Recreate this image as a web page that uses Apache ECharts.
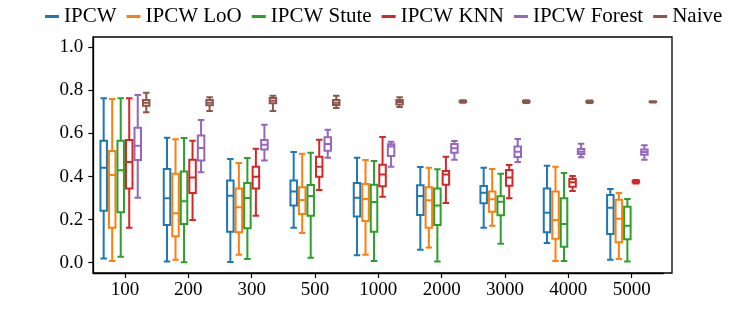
<!DOCTYPE html>
<html>
<head>
<meta charset="utf-8">
<script src="https://cdn.jsdelivr.net/npm/echarts@6/dist/echarts.min.js"></script>
<style>html,body{margin:0;padding:0;background:#fff}#c{width:747px;height:312px}</style>
</head>
<body>
<div id="c"></div>
<script>
// categories (sample sizes)
const categories = ['100','200','300','500','1000','2000','3000','4000','5000'];
const seriesNames = ['IPCW','IPCW LoO','IPCW Stute','IPCW KNN','IPCW Forest','Naive'];
const yTicks = [0.0, 0.2, 0.4, 0.6, 0.8, 1.0];

// each row: [min, Q1, median, Q3, max]
const ipcw = [
  [0.019,0.241,0.441,0.566,0.763],
  [0.005,0.175,0.299,0.435,0.580],
  [0.003,0.144,0.311,0.382,0.481],
  [0.162,0.266,0.330,0.381,0.514],
  [0.034,0.214,0.302,0.370,0.487],
  [0.060,0.221,0.310,0.359,0.444],
  [0.162,0.276,0.325,0.356,0.441],
  [0.091,0.141,0.232,0.345,0.450],
  [0.014,0.133,0.255,0.314,0.342]
];
const ipcwLoO = [
  [0.008,0.162,0.407,0.519,0.760],
  [0.013,0.123,0.229,0.413,0.573],
  [0.037,0.141,0.257,0.344,0.463],
  [0.138,0.226,0.291,0.350,0.506],
  [0.037,0.194,0.296,0.365,0.477],
  [0.071,0.162,0.290,0.350,0.441],
  [0.172,0.237,0.294,0.330,0.435],
  [0.008,0.111,0.198,0.331,0.446],
  [0.017,0.095,0.204,0.292,0.324]
];
const ipcwStute = [
  [0.028,0.234,0.429,0.566,0.763],
  [0.002,0.180,0.285,0.423,0.579],
  [0.017,0.160,0.300,0.370,0.486],
  [0.023,0.218,0.310,0.361,0.511],
  [0.008,0.144,0.282,0.362,0.472],
  [0.005,0.175,0.266,0.344,0.434],
  [0.088,0.220,0.283,0.308,0.413],
  [0.008,0.074,0.180,0.299,0.416],
  [0.005,0.109,0.172,0.260,0.296]
];
const ipcwKNN = [
  [0.162,0.345,0.467,0.570,0.763],
  [0.198,0.324,0.396,0.478,0.566],
  [0.218,0.344,0.399,0.446,0.529],
  [0.337,0.399,0.446,0.492,0.571],
  [0.306,0.355,0.409,0.455,0.584],
  [0.277,0.362,0.409,0.426,0.492],
  [0.299,0.357,0.395,0.430,0.454],
  [0.333,0.353,0.373,0.389,0.402],
  [0.368,0.372,0.376,0.380,0.384]
];
const ipcwForest = [
  [0.302,0.477,0.543,0.627,0.779],
  [0.420,0.475,0.532,0.591,0.662],
  [0.474,0.525,0.548,0.570,0.641],
  [0.487,0.520,0.551,0.582,0.617],
  [0.446,0.495,0.539,0.550,0.562],
  [0.478,0.511,0.531,0.551,0.565],
  [0.467,0.491,0.515,0.539,0.574],
  [0.489,0.505,0.515,0.528,0.552],
  [0.478,0.501,0.514,0.525,0.545]
];
const naive = [
  [0.698,0.729,0.743,0.755,0.789],
  [0.704,0.731,0.743,0.755,0.768],
  [0.704,0.740,0.752,0.765,0.775],
  [0.718,0.732,0.743,0.755,0.775],
  [0.723,0.735,0.746,0.755,0.768],
  [0.743,0.746,0.749,0.751,0.754],
  [0.742,0.745,0.748,0.751,0.754],
  [0.742,0.745,0.747,0.750,0.753],
  [0.744,0.746,0.747,0.749,0.750]
];

const allData = [ipcw, ipcwLoO, ipcwStute, ipcwKNN, ipcwForest, naive];
const colors = ['#1f77b4','#ff7f0e','#2ca02c','#d62728','#9467bd','#8c564b'];
const FONT = '"Liberation Serif", "Times New Roman", serif';

const chart = echarts.init(document.getElementById('c'), null, {renderer: 'canvas'});
chart.setOption({
  animation: false,
  backgroundColor: '#fff',
  legend: {
    top: 1,
    left: 40,
    icon: 'rect',
    itemWidth: 14,
    itemHeight: 3,
    itemGap: 10,
    textStyle: {fontFamily: FONT, fontSize: 21, color: '#000'},
    data: seriesNames.map((n, i) => ({name: n, itemStyle: {color: colors[i], borderWidth: 0}}))
  },
  grid: [
    {left: 93, right: 75, top: 37, bottom: 39, show: true, borderColor: '#000', borderWidth: 1.3, backgroundColor: 'transparent'},
    {left: 93.3, right: 83.7, top: 37, bottom: 39, show: false}
  ],
  xAxis: [
    {gridIndex: 0, type: 'value', show: false, min: 0, max: 1},
    {
      gridIndex: 1, type: 'category', data: categories,
      axisLine: {show: true, onZero: false, lineStyle: {color: '#000', width: 1.3}},
      axisTick: {show: true, alignWithLabel: true, length: 5, lineStyle: {color: '#000', width: 1.2}},
      axisLabel: {fontFamily: FONT, fontSize: 19, color: '#000', margin: 8},
      splitLine: {show: false}
    }
  ],
  yAxis: [
    {gridIndex: 0, type: 'value', show: false, min: 0, max: 1},
    {
      gridIndex: 1, type: 'value', min: -0.048, max: 1.048,
      axisLine: {show: true, onZero: false, lineStyle: {color: '#000', width: 1.3}},
      axisTick: {show: true, length: 5, lineStyle: {color: '#000', width: 1.2}, customValues: yTicks},
      axisLabel: {fontFamily: FONT, fontSize: 19, color: '#000', margin: 10, customValues: yTicks,
        formatter: v => v.toFixed(1)},
      splitLine: {show: false}
    }
  ],
  series: allData.map((d, i) => ({
    name: seriesNames[i],
    type: 'boxplot',
    xAxisIndex: 1,
    yAxisIndex: 1,
    boxWidth: [6.5, 6.5],
    itemStyle: {color: 'rgba(255,255,255,0)', borderColor: colors[i], borderWidth: 2},
    emphasis: {disabled: true},
    data: d
  }))
});
</script>
</body>
</html>
